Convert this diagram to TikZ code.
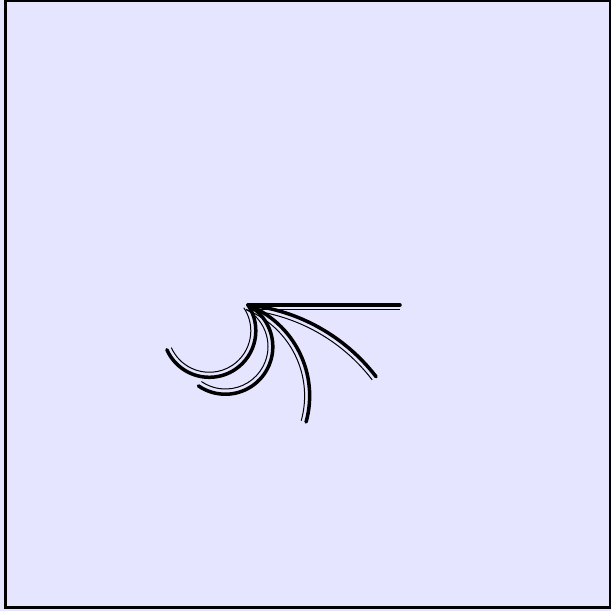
\documentclass[tikz,border=0pt]{standalone}
\usetikzlibrary{calc}
\begin{document}
\begin{tikzpicture}[x=1pt,y=1pt,
  thickline/.style={line width=3.5pt, line cap=round, black},
  thinline/.style={line width=1pt, black}]
\useasboundingbox (0,0) rectangle (611,611);
\fill[blue!10] (0,0) rectangle (611,611);
\draw[line width=3pt] (5.5,3) rectangle (610,610);
% common start point and arc centres
\coordinate (O) at (248,306);
\coordinate (E0) at (400,306);
\coordinate (C1) at (228.56,121.0);
\coordinate (C2) at (211.8,215.1);
\coordinate (C3) at (225.5,264.5);
\coordinate (C4) at (209.3,280.2);
% straight one
\draw[thickline] (O) -- (E0);
\draw[thinline] ($(O)+(6,-4.5)$) -- ($(E0)+(0,-4.5)$);
% curve 1
\draw[thickline] (O) arc[start angle=84, end angle=37.5, radius=186];
\draw[thinline] (C1) ++(84:181) arc[start angle=84, end angle=37.5, radius=181];
% curve 2
\draw[thickline] (O) arc[start angle=68.3, end angle=-15.5, radius=97.8];
\draw[thinline] (C2) ++(68.3:92.8) arc[start angle=68.3, end angle=-15.5, radius=92.8];
% curve 3
\draw[thickline] (O) arc[start angle=61.5, end angle=-124.5, radius=47.5];
\draw[thinline] (C3) ++(61.5:42.5) arc[start angle=61.5, end angle=-124.5, radius=42.5];
% curve 4
\draw[thickline] (O) arc[start angle=33.7, end angle=-156, radius=46.5];
\draw[thinline] (C4) ++(33.7:41.5) arc[start angle=33.7, end angle=-156, radius=41.5];
\end{tikzpicture}
\end{document}
